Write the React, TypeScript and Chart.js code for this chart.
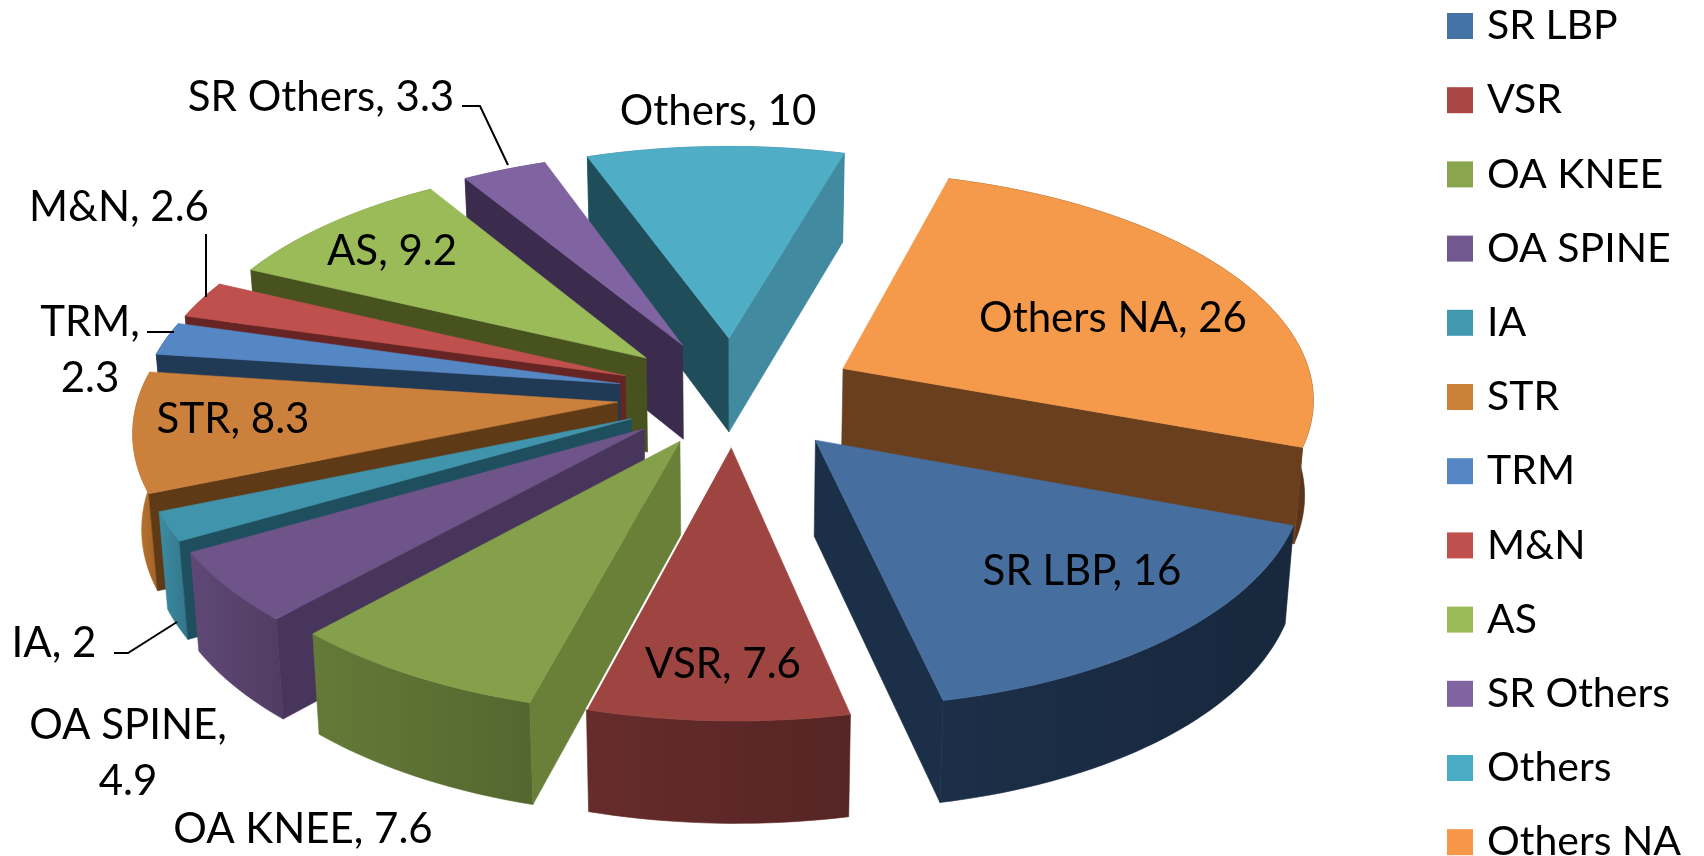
import React, { useEffect, useRef } from "react";
import { Chart, registerables } from "chart.js";

Chart.register(...registerables);

const categories = ["SR LBP", "VSR", "OA KNEE", "OA SPINE", "IA", "STR", "TRM", "M&N", "AS", "SR Others", "Others", "Others NA"];
const values = [16, 7.6, 7.6, 4.9, 2, 8.3, 2.3, 2.6, 9.2, 3.3, 10, 26];
const explodeOffsets = [122, 105, 108, 112, 112, 116, 116, 116, 118, 118, 122, 125];
const radiusScales = [0.98, 1, 1, 1, 1, 1, 1, 1, 0.98, 0.98, 0.98, 0.975];

const topColors = ["#466E9F", "#9E4441", "#85A04A", "#6E5488", "#4094AC", "#CB803B", "#5587C4", "#C0504D", "#9BBB59", "#8064A2", "#4FADC6", "#F49A4A"];
const outerColors = ["#1C2F48", "#662C2B", "#647A38", "#5F4876", "#3D8CA3", "#C0762F", "#3F6C9E", "#9A3F3D", "#7C9647", "#664F82", "#418AA0", "#6A3F1E"];
const startWallColors = ["#1C2F48", "#662C2B", "#6A8039", "#47355B", "#1F4F5F", "#5F3A16", "#203954", "#662524", "#47521F", "#3B2C4D", "#1F4E5A", "#6A3F1E"];
const endWallColors = ["#1C2F48", "#662C2B", "#6A8039", "#47355B", "#1F4F5F", "#5F3A16", "#203954", "#662524", "#47521F", "#3B2C4D", "#418AA0", "#6A3F1E"];
const legendColors = ["#4572A7", "#AA4643", "#89A54E", "#71588F", "#4198AF", "#CC8139", "#5587C4", "#C0504D", "#9BBB59", "#8064A2", "#4BACC6", "#F79646"];

// Data-label text placement, in page pixels (centre of each line).
const labelLayout = [
  { i: 0, lines: ["SR LBP, 16"], x: 1082, y: 571 },
  { i: 1, lines: ["VSR, 7.6"], x: 723, y: 664 },
  { i: 2, lines: ["OA KNEE, 7.6"], x: 303, y: 829 },
  { i: 3, lines: ["OA SPINE,", "4.9"], x: 128, y: 725 },
  { i: 4, lines: ["IA, 2"], x: 54, y: 643 },
  { i: 5, lines: ["STR, 8.3"], x: 233, y: 419 },
  { i: 6, lines: ["TRM,", "2.3"], x: 90, y: 322 },
  { i: 7, lines: ["M&N, 2.6"], x: 119, y: 207 },
  { i: 8, lines: ["AS, 9.2"], x: 392, y: 251 },
  { i: 9, lines: ["SR Others, 3.3"], x: 321, y: 97 },
  { i: 10, lines: ["Others, 10"], x: 718, y: 111 },
  { i: 11, lines: ["Others NA, 26"], x: 1113, y: 318 },
];
const leaderLines = [
  [[462, 106], [480, 106], [508, 165]],
  [[206, 234], [206, 297]],
  [[147, 332], [174, 332]],
  [[114, 653], [128, 653], [177, 622]],
];

const CX = 733;
const CY = 395;
const RX = 481;
const RY = 230;
const K = 0.115;
const SHEAR_X = 18;
const SHEAR_Y = -7;
const DEPTH = 95;
const LABEL_FONT = '42px Lato, "Open Sans", sans-serif';
const LEGEND_FONT = '41px Lato, "Open Sans", sans-serif';
const LINE_H = 56;

type Pt = { x: number; y: number };

function project(x: number, y: number, z: number): Pt {
  const w = 1 - K * y;
  return {
    x: CX + (((RX * x + SHEAR_X * y) / w) * (1 - 0.015 * z)),
    y: CY + (RY * y + SHEAR_Y * x) / w + (z * DEPTH) / Math.sqrt(w),
  };
}

function path(ctx: CanvasRenderingContext2D, pts: Pt[]) {
  ctx.beginPath();
  pts.forEach((p, i) => (i ? ctx.lineTo(p.x, p.y) : ctx.moveTo(p.x, p.y)));
  ctx.closePath();
}

function poly(ctx: CanvasRenderingContext2D, pts: Pt[], fill: string) {
  path(ctx, pts);
  ctx.fillStyle = fill;
  ctx.strokeStyle = fill;
  ctx.lineWidth = 0.6;
  ctx.fill();
  ctx.stroke();
}

// A radial wall shows only when the slice's top lies above its upper edge on screen.
function wallFacesViewer(tip: Pt, corner: Pt, inner: Pt) {
  const dx = corner.x - tip.x;
  if (Math.abs(dx) < 1e-6) return false;
  const lineY = tip.y + ((inner.x - tip.x) / dx) * (corner.y - tip.y);
  return inner.y < lineY;
}

const pie3d = {
  id: "pie3d",
  beforeDatasetsDraw(chart: any) {
    const ctx: CanvasRenderingContext2D = chart.ctx;
    const arcs = chart.getDatasetMeta(0).data;
    const slices = arcs.map((arc: any, i: number) => {
      const a0 = arc.startAngle + Math.PI / 2;
      const a1 = arc.endAngle + Math.PI / 2;
      const m = (a0 + a1) / 2;
      const e = arc.options.offset / RX;
      const r = radiusScales[i];
      const ox = e * Math.sin(m);
      const oy = -e * Math.cos(m);
      const n = Math.max(6, Math.ceil((a1 - a0) * 40));
      const rim: Pt[] = [];
      for (let k = 0; k <= n; k++) {
        const a = a0 + ((a1 - a0) * k) / n;
        rim.push({ x: ox + r * Math.sin(a), y: oy - r * Math.cos(a) });
      }
      return { i, ox, oy, rim, key: oy - Math.cos(m) * 0.6 };
    });
    slices.sort((p: any, q: any) => p.key - q.key);
    for (const s of slices) {
      const P = (p: Pt, z: number) => project(p.x, p.y, z);
      const tip = { x: s.ox, y: s.oy };
      const first = s.rim[0];
      const last = s.rim[s.rim.length - 1];
      const midRim = P(s.rim[Math.floor(s.rim.length / 2)], 0);
      const top = s.rim.map((p: Pt) => P(p, 0));
      const bottom = s.rim.map((p: Pt) => P(p, 1)).reverse();
      const wall = [...top, ...bottom];
      poly(ctx, wall, outerColors[s.i]);
      // soft shading across the curved outer wall
      const xs = wall.map((p) => p.x);
      const shade = ctx.createLinearGradient(Math.min(...xs), 0, Math.max(...xs), 0);
      shade.addColorStop(0, "rgba(0,0,0,0)");
      shade.addColorStop(1, "rgba(0,0,0,0.16)");
      path(ctx, wall);
      ctx.fillStyle = shade;
      ctx.fill();
      if (wallFacesViewer(P(tip, 0), P(first, 0), midRim)) {
        poly(ctx, [P(tip, 0), P(first, 0), P(first, 1), P(tip, 1)], startWallColors[s.i]);
      }
      if (wallFacesViewer(P(tip, 0), P(last, 0), midRim)) {
        poly(ctx, [P(tip, 0), P(last, 0), P(last, 1), P(tip, 1)], endWallColors[s.i]);
      }
      poly(ctx, [P(tip, 0), ...top], topColors[s.i]);
      if (categories[s.i] === "VSR") {
        // thin light seam where this slice overlaps its neighbour
        ctx.beginPath();
        ctx.moveTo(P(tip, 0).x, P(tip, 0).y);
        ctx.lineTo(P(last, 0).x, P(last, 0).y);
        ctx.strokeStyle = "#fff";
        ctx.lineWidth = 2;
        ctx.stroke();
      }
    }
    return false;
  },
  afterDraw(chart: any) {
    const ctx: CanvasRenderingContext2D = chart.ctx;
    ctx.save();
    ctx.fillStyle = "#000";
    ctx.font = LABEL_FONT;
    ctx.textAlign = "center";
    ctx.textBaseline = "middle";
    for (const l of labelLayout) {
      l.lines.forEach((t, k) => ctx.fillText(t, l.x, l.y + k * LINE_H));
    }
    ctx.strokeStyle = "#000";
    ctx.lineWidth = 2;
    for (const line of leaderLines) {
      ctx.beginPath();
      line.forEach((p, k) => (k ? ctx.lineTo(p[0], p[1]) : ctx.moveTo(p[0], p[1])));
      ctx.stroke();
    }
    // Legend column
    ctx.textAlign = "left";
    ctx.font = LEGEND_FONT;
    chart.data.labels.forEach((t: string, i: number) => {
      const y = 26 + i * 74.2;
      ctx.fillStyle = legendColors[i];
      ctx.fillRect(1447, y - 13, 26, 26);
      ctx.fillStyle = "#000";
      ctx.fillText(t, 1487, y);
    });
    ctx.restore();
  },
};

export default function App() {
  const ref = useRef<HTMLCanvasElement>(null);
  useEffect(() => {
    document.body.style.margin = "0";
    document.body.style.background = "#fff";
    const chart = new Chart(ref.current!, {
      type: "pie",
      data: {
        labels: categories,
        datasets: [{ data: values, backgroundColor: legendColors, offset: explodeOffsets, borderWidth: 0 }],
      },
      options: {
        responsive: false,
        animation: false,
        rotation: 112,
        plugins: { legend: { display: false }, tooltip: { enabled: false } },
      },
      plugins: [pie3d],
    } as any);
    return () => chart.destroy();
  }, []);
  return <canvas ref={ref} width={1704} height={856} style={{ display: "block" }} />;
}
